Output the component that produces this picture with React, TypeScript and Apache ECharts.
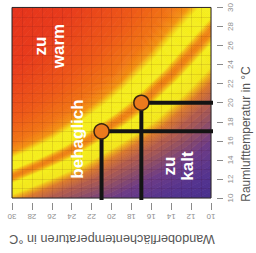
import React, { useEffect, useRef } from "react";
import * as echarts from "echarts";

// Comfort centre line (orange stripe inside the yellow band)
const centerWall = [45, 32, 30, 27, 24.3, 21, 19, 17, 14, 12, 10, 8, -5];
const centerRoom = [5.5, 11.5, 12.3, 13.6, 14.9, 17, 18.4, 20, 23, 25.3, 27.6, 29.8, 44];
const bandSpread = [1, 1, 1, 1, 1.05, 1.1, 1.15, 1.2, 1.25, 1.3, 1.3, 1.3, 1.3];

// Two example states (room air temperature, wall surface temperature)
const pointRoom = [17, 20];
const pointWall = [21, 17];

const axisMin = 10;
const axisMax = 30;
const axisStep = 2;

const zoneLabels = ["zu\nwarm", "behaglich", "zu\nkalt"];
const roomTitle = "Raumlufttemperatur in °C";
const wallTitle = "Wandoberflächentemperaturen in °C";

// colour profile across the band (offset in °C, + = warmer)
const stopK = [-14, -9, -6, -4.5, -3.5, -2.6, -1.95, -1.6, -1.35, -0.5, -0.33, -0.15, 0, 0.15, 0.33, 0.5, 1.35, 1.55, 1.8, 2.4, 4, 7, 16];
const stopC = [
  "#37298a", "#3c2c8d", "#55348f", "#6e3c86", "#915066", "#b8604a", "#dc7a2c", "#eeb21c", "#f3e61c", "#f5ee1c", "#f3b416", "#f08a14", "#ee8013",
  "#f08a14", "#f3b416", "#f5ee1c", "#f5ec1c", "#f4c816", "#f39212", "#f17614", "#ee5a18", "#e83c1c", "#e0221e",
];

function hexToRgb(h: string) {
  return [parseInt(h.slice(1, 3), 16), parseInt(h.slice(3, 5), 16), parseInt(h.slice(5, 7), 16)];
}
function colorAt(k: number) {
  if (k <= stopK[0]) return stopC[0];
  for (let i = 0; i < stopK.length - 1; i++) {
    if (k <= stopK[i + 1]) {
      const t = (k - stopK[i]) / (stopK[i + 1] - stopK[i]);
      const a = hexToRgb(stopC[i]);
      const b = hexToRgb(stopC[i + 1]);
      const c = a.map((v, j) => Math.round(v + (b[j] - v) * t));
      return `rgb(${c[0]},${c[1]},${c[2]})`;
    }
  }
  return stopC[stopC.length - 1];
}

function buildLevels() {
  const lv: number[] = [];
  let k = -14;
  while (k < 16) {
    lv.push(k);
    k += Math.abs(k) < 2.6 ? 0.08 : 0.3;
  }
  lv.push(16);
  return lv;
}

export default function App() {
  const ref = useRef<HTMLDivElement>(null);
  useEffect(() => {
    if (!ref.current) return;
    const chart = echarts.init(ref.current, undefined, { renderer: "svg" });
    const levels = buildLevels();
    const n = centerWall.length;
    const gridLine = { show: true, lineStyle: { color: "rgba(60,0,20,0.1)", width: 1 } };
    const font = "Liberation Sans";

    const lineSeries = pointRoom.map((r, i) => ({
      type: "line",
      data: [
        [pointWall[i], axisMin],
        [pointWall[i], r],
        [axisMin, r],
      ],
      showSymbol: false,
      clip: false,
      z: 3,
      lineStyle: { color: "#141414", width: 4, cap: "square", join: "miter" },
    }));

    chart.setOption({
      animation: false,
      textStyle: { fontFamily: font },
      grid: { left: 12, right: 45, top: 6, bottom: 55, show: true, borderColor: "#2a2a2a", borderWidth: 1, backgroundColor: "transparent" },
      xAxis: {
        type: "value",
        min: axisMin,
        max: axisMax,
        interval: axisStep,
        inverse: true,
        position: "bottom",
        offset: 5,
        axisLine: { show: false },
        axisTick: { show: true, length: 7, lineStyle: { color: "#8a8a8a", width: 1 } },
        axisLabel: { rotate: 180, fontSize: 8, color: "#8f8f8f", margin: 9 },
        splitLine: gridLine,
        minorTick: { show: false, splitNumber: 2 },
        minorSplitLine: gridLine,
      },
      yAxis: {
        type: "value",
        min: axisMin,
        max: axisMax,
        interval: axisStep,
        position: "right",
        offset: 6,
        axisLine: { show: false },
        axisTick: { show: true, length: 6, lineStyle: { color: "#8a8a8a", width: 1 } },
        axisLabel: { rotate: 90, fontSize: 8, color: "#8f8f8f", margin: 9 },
        splitLine: gridLine,
        minorTick: { show: false, splitNumber: 2 },
        minorSplitLine: gridLine,
      },
      series: [
        {
          type: "custom",
          z: -1,
          clip: true,
          silent: true,
          data: levels.slice(0, -1).map(() => [20, 20]),
          renderItem: (params: any, api: any) => {
            const j = params.dataIndex;
            const k0 = levels[j];
            const k1 = levels[j + 1];
            const pts: number[][] = [];
            for (let i = 0; i < n; i++) {
              const s = bandSpread[i];
              pts.push(api.coord([centerWall[i] + k0 * s, centerRoom[i] + k0 * s]));
            }
            for (let i = n - 1; i >= 0; i--) {
              const s = bandSpread[i];
              pts.push(api.coord([centerWall[i] + k1 * s, centerRoom[i] + k1 * s]));
            }
            const col = colorAt((k0 + k1) / 2);
            return { type: "polygon", shape: { points: pts }, style: { fill: col, stroke: col, lineWidth: 0.8 } };
          },
        },
        ...lineSeries,
        {
          type: "scatter",
          z: 4,
          data: pointRoom.map((r, i) => [pointWall[i], r]),
          symbolSize: 15,
          itemStyle: { color: "#ec7a1c", borderColor: "#3a2410", borderWidth: 1.5, opacity: 1 },
        },
      ],
      graphic: [
        {
          type: "text", x: 49, y: 46, rotation: Math.PI / 2, z: 10,
          style: { text: zoneLabels[0], fill: "#ffffff", font: `bold 17px "${font}"`, textAlign: "center", textVerticalAlign: "middle", align: "center", verticalAlign: "middle", lineHeight: 18 },
        },
        {
          type: "text", x: 77, y: 139, rotation: Math.PI / 2, z: 10,
          style: { text: zoneLabels[1], fill: "#ffffff", font: `bold 17px "${font}"`, textAlign: "center", textVerticalAlign: "middle", align: "center", verticalAlign: "middle" },
        },
        {
          type: "text", x: 178, y: 166, rotation: Math.PI / 2, z: 10,
          style: { text: zoneLabels[2], fill: "#ffffff", font: `bold 17px "${font}"`, textAlign: "center", textVerticalAlign: "middle", align: "center", verticalAlign: "middle", lineHeight: 18 },
        },
        {
          type: "text", x: 246, y: 134, rotation: Math.PI / 2, z: 10,
          style: { text: roomTitle, fill: "#555555", font: `12px "${font}"`, textAlign: "center", textVerticalAlign: "middle", align: "center", verticalAlign: "middle" },
        },
        {
          type: "text", x: 112, y: 239, rotation: Math.PI, z: 10,
          style: { text: wallTitle, fill: "#555555", font: `12.7px "${font}"`, textAlign: "center", textVerticalAlign: "middle", align: "center", verticalAlign: "middle" },
        },
      ],
    });
    return () => chart.dispose();
  }, []);
  return <div ref={ref} style={{ position: "fixed", left: 0, top: 0, width: 256, height: 253, background: "#fff" }} />;
}
